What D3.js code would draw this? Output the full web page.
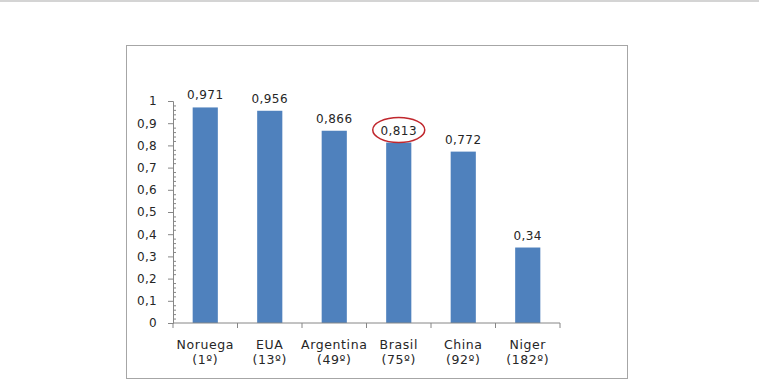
<!DOCTYPE html>
<html><head><meta charset="utf-8">
<script src="https://cdn.jsdelivr.net/npm/d3@7"></script>
<style>body{margin:0;background:#fff}svg{display:block}</style>
</head><body>
<svg id="c" width="759" height="380"></svg>
<script>
const countries = ["Noruega","EUA","Argentina","Brasil","China","Niger"];
const ranks = ["(1º)","(13º)","(49º)","(75º)","(92º)","(182º)"];
const idh = [0.971,0.956,0.866,0.813,0.772,0.34];
const yTicks = [0,0.1,0.2,0.3,0.4,0.5,0.6,0.7,0.8,0.9,1];
const highlighted = "Brasil";

const svg = d3.select("#c");
const fmt = v => String(v).replace(".", ",");
const font = "'DejaVu Sans', Verdana, sans-serif";
const txt = "#262626";

svg.append("rect").attr("x",0).attr("y",0).attr("width",759).attr("height",2).attr("fill","#d4d4d4");
svg.append("rect").attr("x",126.5).attr("y",45.5).attr("width",501).attr("height",333)
  .attr("fill","#fff").attr("stroke","#a6a6a6").attr("stroke-width",1);

const x = d3.scaleBand().domain(countries).range([173,560]).paddingInner(0.61).paddingOuter(0.305);
const y = d3.scaleLinear().domain([0,1]).range([323,101]);
const axisColor = "#868686";

svg.selectAll("rect.bar").data(idh).join("rect").attr("class","bar")
  .attr("x",(d,i)=>x(countries[i])).attr("width",x.bandwidth())
  .attr("y",d=>y(d)).attr("height",d=>y(0)-y(d)).attr("fill","#4F81BD");

svg.selectAll("text.val").data(idh).join("text").attr("class","val")
  .attr("x",(d,i)=>x(countries[i])+x.bandwidth()/2).attr("y",d=>y(d)-8)
  .attr("text-anchor","middle").attr("font-family",font).attr("font-size",12)
  .attr("letter-spacing",0.4).attr("fill",txt)
  .text(d=>fmt(d));

const hi = countries.indexOf(highlighted);
svg.append("ellipse").attr("cx",x(highlighted)+x.bandwidth()/2).attr("cy",y(idh[hi])-12.5)
  .attr("rx",26).attr("ry",12.5).attr("fill","none").attr("stroke","#C0272D").attr("stroke-width",1.5);

const yAxis = svg.append("g").attr("transform","translate(173,0)")
  .call(d3.axisLeft(y).tickValues(yTicks).tickSize(5).tickPadding(11).tickFormat(fmt));
yAxis.select(".domain").attr("stroke",axisColor);
yAxis.selectAll(".tick line").attr("stroke",axisColor);
yAxis.selectAll("text").attr("font-family",font).attr("font-size",12).attr("letter-spacing",0.3).attr("fill",txt);
const minor = d3.range(0,50).map(i=>i/50).filter((v,i)=>i%5!==0);
svg.append("g").attr("transform","translate(173,0)")
  .call(d3.axisRight(y).tickValues(minor).tickSize(3).tickFormat(""))
  .call(g=>g.select(".domain").remove())
  .selectAll(".tick line").attr("stroke",axisColor);

const xg = svg.append("g").attr("transform","translate(0,323)");
xg.append("line").attr("x1",173).attr("x2",560).attr("stroke",axisColor);
const bounds = countries.map(c=>x(c)-x.step()*x.paddingInner()/2).concat([560]);
xg.selectAll("line.t").data(bounds).join("line").attr("class","t")
  .attr("x1",d=>d).attr("x2",d=>d).attr("y1",0).attr("y2",5).attr("stroke",axisColor);
const xl = xg.selectAll("text.cat").data(countries).join("text").attr("class","cat")
  .attr("x",c=>x(c)+x.bandwidth()/2).attr("text-anchor","middle")
  .attr("font-family",font).attr("font-size",12.5).attr("letter-spacing",0.6).attr("fill",txt);
xl.append("tspan").attr("x",c=>x(c)+x.bandwidth()/2).attr("y",25.5).text(c=>c);
xl.append("tspan").attr("x",c=>x(c)+x.bandwidth()/2).attr("y",40.5).text((c,i)=>ranks[i]);
</script>
</body></html>
